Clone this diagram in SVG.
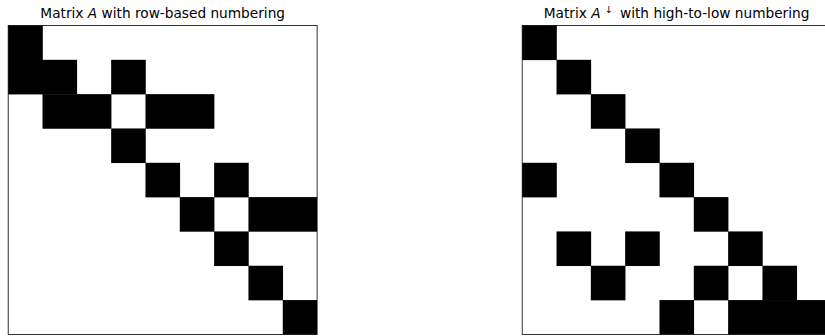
<svg xmlns="http://www.w3.org/2000/svg" width="825" height="336" viewBox="0 0 825 336">
<style>
.title{font-family:"DejaVu Sans","Liberation Sans",sans-serif;font-size:13.7px;fill:#000;text-anchor:middle}
.it{font-style:italic}
.sup{font-size:9.6px}
.cell{fill:#000}
.frame{fill:none;stroke:#000;stroke-width:0.8}
</style>
<rect width="825" height="336" fill="#fff"/>
<g id="matrixA">
<text class="title" x="162.7" y="18.3">Matrix <tspan class="it">A</tspan> with row-based numbering</text>
<rect x="8.2" y="25.5" width="308.9" height="308.9" fill="#fff"/>
<g class="cells">
<rect class="cell" x="8.2" y="25.5" width="34.6" height="34.6"/>
<rect class="cell" x="8.2" y="59.82" width="68.9" height="34.6"/>
<rect class="cell" x="111.16" y="59.82" width="34.6" height="34.6"/>
<rect class="cell" x="42.52" y="94.14" width="68.9" height="34.6"/>
<rect class="cell" x="145.48" y="94.14" width="68.9" height="34.6"/>
<rect class="cell" x="111.16" y="128.46" width="34.6" height="34.6"/>
<rect class="cell" x="145.48" y="162.78" width="34.6" height="34.6"/>
<rect class="cell" x="214.12" y="162.78" width="34.6" height="34.6"/>
<rect class="cell" x="179.8" y="197.1" width="34.6" height="34.6"/>
<rect class="cell" x="248.44" y="197.1" width="68.66" height="34.6"/>
<rect class="cell" x="214.12" y="231.42" width="34.6" height="34.6"/>
<rect class="cell" x="248.44" y="265.74" width="34.6" height="34.6"/>
<rect class="cell" x="282.76" y="300.06" width="34.34" height="34.34"/>
</g>
<rect class="frame" x="8.2" y="25.5" width="308.9" height="308.9"/>
</g>
<g id="matrixAdown">
<text class="title" x="676.6" y="18.3">Matrix <tspan class="it">A</tspan><tspan class="sup" dx="4" dy="-5">↓</tspan><tspan dx="3" dy="5"> with high-to-low numbering</tspan></text>
<rect x="522.2" y="25.5" width="308.9" height="308.9" fill="#fff"/>
<g class="cells">
<rect class="cell" x="522.2" y="25.5" width="34.6" height="34.6"/>
<rect class="cell" x="556.52" y="59.82" width="34.6" height="34.6"/>
<rect class="cell" x="590.84" y="94.14" width="34.6" height="34.6"/>
<rect class="cell" x="625.16" y="128.46" width="34.6" height="34.6"/>
<rect class="cell" x="522.2" y="162.78" width="34.6" height="34.6"/>
<rect class="cell" x="659.48" y="162.78" width="34.6" height="34.6"/>
<rect class="cell" x="693.8" y="197.1" width="34.6" height="34.6"/>
<rect class="cell" x="556.52" y="231.42" width="34.6" height="34.6"/>
<rect class="cell" x="625.16" y="231.42" width="34.6" height="34.6"/>
<rect class="cell" x="728.12" y="231.42" width="34.6" height="34.6"/>
<rect class="cell" x="590.84" y="265.74" width="34.6" height="34.6"/>
<rect class="cell" x="693.8" y="265.74" width="34.6" height="34.6"/>
<rect class="cell" x="762.44" y="265.74" width="34.6" height="34.6"/>
<rect class="cell" x="659.48" y="300.06" width="34.6" height="34.34"/>
<rect class="cell" x="728.12" y="300.06" width="103" height="34.34"/>
</g>
<rect class="frame" x="522.2" y="25.5" width="308.9" height="308.9"/>
</g>
</svg>
